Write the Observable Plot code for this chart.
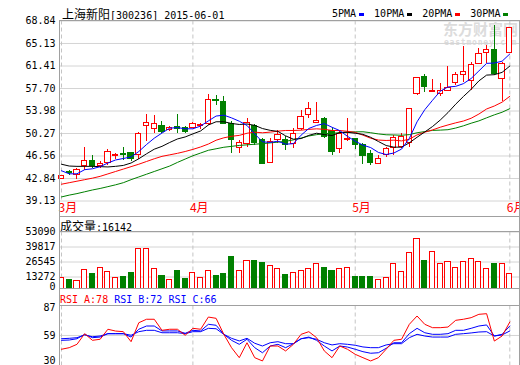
<!DOCTYPE html>
<html><head><meta charset="utf-8">
<script src="https://cdn.jsdelivr.net/npm/d3@7"></script>
<script src="https://cdn.jsdelivr.net/npm/@observablehq/plot@0.6"></script>
<style>
html,body{margin:0;padding:0;background:#fff}
#c{position:relative;width:520px;height:365px;overflow:hidden;font-family:"DejaVu Sans Mono",monospace;font-size:10px;color:#000}
.abs{position:absolute}
.txt{position:absolute;white-space:nowrap;line-height:12px;font-size:10px;font-family:"DejaVu Sans Mono",monospace}
.cjk{font-family:"Noto Sans CJK SC";font-size:12px}
.hl{position:absolute;height:1px;background:#a0a0a0;left:59px;width:461px}
.vl{position:absolute;width:1px;background:#a0a0a0;top:20px;height:345px}
.key{display:inline-block;width:5px;height:3px;margin:0 10px 0 3px;vertical-align:1px}
svg{overflow:visible}
</style></head><body><div id="c"></div>
<script>
// ---------- data ----------
const title = "[300236] 2015-06-01";
const stockName = "上海新阳";
const monthIdx = [0, 17, 38, 58];
const monthLbl = ["3月", "4月", "5月", "6月"];
const priceTicks = [39.13, 42.84, 46.56, 50.27, 53.98, 57.70, 61.41, 65.13, 68.84];
const volTicks = [13272, 26545, 39817, 53090];
const rsiTicks = [87, 59, 30];
const legendLbl = ["5PMA", "10PMA", "20PMA", "30PMA"];
const legendColor = ["#0000ff", "#000000", "#ff0000", "#008000"];

const open = [42.76,43.85,43.49,44.86,45.8,44.85,45.47,46.5,46.9,47.0,46.67,51.46,51.08,51.46,50.8,51.38,51.18,51.18,51.55,51.91,55.8,55.47,51.91,47.94,48.6,51.46,49.15,45.4,49.15,49.23,48.6,51.08,53.39,52.0,52.73,50.7,47.78,49.15,49.31,48.32,46.95,45.3,46.79,47.94,47.99,48.7,56.86,59.6,57.19,56.74,57.29,58.61,60.0,58.89,61.81,63.56,64.12,59.22,63.56];
const high = [43.35,44.2,44.48,48.04,46.67,45.68,47.58,47.0,47.99,47.17,50.47,53.44,53.28,52.29,51.46,53.39,51.46,52.12,52.0,56.69,56.58,56.3,52.17,49.15,52.73,51.8,49.48,49.48,50.8,49.81,51.13,54.1,55.47,55.47,52.95,51.13,50.52,52.73,49.48,48.65,47.5,46.67,47.99,49.98,50.26,54.43,59.55,60.04,59.17,58.51,61.25,60.42,64.55,62.07,64.29,64.83,68.13,62.07,67.75];
const low = [42.6,43.26,42.71,44.2,44.48,44.53,45.02,46.0,45.85,45.6,46.0,48.98,50.26,50.3,50.64,50.3,50.3,51.13,50.92,51.63,54.93,51.8,46.95,47.0,48.04,48.3,45.19,45.3,48.65,47.5,47.83,50.8,52.73,52.0,49.48,46.67,46.95,48.98,47.66,45.19,45.02,45.3,46.34,46.67,47.83,48.04,56.58,56.96,56.96,56.3,57.19,58.23,58.77,57.4,61.7,61.81,59.88,55.59,63.4];
const close = [43.21,43.75,44.31,45.8,44.86,45.18,47.25,46.79,46.8,46.0,50.26,51.96,51.91,50.52,51.18,51.05,50.52,51.91,51.63,55.75,55.7,51.91,49.15,48.77,52.0,48.77,45.3,48.87,49.98,48.32,50.26,52.99,54.38,52.29,49.7,47.22,50.26,49.31,48.32,46.56,45.4,46.01,47.78,49.6,49.65,54.38,59.5,57.95,57.35,57.24,57.78,59.88,60.42,61.53,63.46,64.0,60.16,61.81,67.7];
const volume = [12740,10350,10090,19820,15660,21590,18050,12120,13010,16550,38400,38400,20700,13890,10970,18320,11240,17170,12740,18930,13890,16280,30700,18580,27780,27160,26010,23360,20700,15390,16810,18930,20700,25130,21590,18930,20700,21590,13010,13010,13010,10970,12740,25130,18050,34860,47250,27160,35750,25130,26900,21590,26900,29550,26900,20700,25130,25130,16142];
const ma5 = [44.12,43.62,43.62,44.3,44.45,44.8,45.4,45.9,46.15,46.4,47.3,48.45,49.5,50.35,51.15,51.25,51.05,51.05,51.5,52.35,53.15,53.3,52.85,52.3,51.6,50.2,48.9,48.8,49.0,48.5,48.6,50.0,51.1,51.6,51.9,51.3,50.75,49.8,49.0,48.35,47.95,47.15,46.8,47.05,47.7,49.45,52.2,54.2,55.75,57.25,57.95,58.05,58.5,59.35,60.6,61.85,61.9,62.2,63.4];
const ma10 = [45.2,44.9,44.85,44.85,44.85,44.8,44.75,44.85,45.0,45.4,46.1,46.92,47.68,48.15,48.79,49.37,49.7,50.21,50.69,51.67,52.21,52.21,51.93,51.76,51.84,51.61,51.09,50.79,50.62,49.88,49.33,49.44,49.96,50.32,50.09,49.93,50.43,50.47,50.31,50.13,49.64,48.95,48.29,48.02,48.01,48.73,49.65,50.52,51.42,52.49,53.72,55.11,56.38,57.57,58.95,59.91,59.98,60.36,61.4];
const ma20 = [41.9,42.15,42.4,42.65,42.9,43.2,43.6,44.0,44.4,44.8,45.2,45.65,46.1,46.5,46.75,47.0,47.3,47.65,48.05,48.53,49.16,49.56,49.81,49.96,50.31,50.49,50.39,50.5,50.66,50.77,50.77,50.82,50.95,51.04,50.96,50.77,50.76,50.63,50.46,50.0,49.49,49.19,49.12,49.17,49.05,49.33,50.04,50.49,50.86,51.31,51.68,52.03,52.33,52.79,53.48,54.32,54.81,55.44,56.41];
const ma30 = [39.8,40.1,40.35,40.65,40.95,41.2,41.5,41.8,42.15,42.65,43.1,43.55,44.0,44.45,44.9,45.5,46.05,46.6,47.05,47.5,47.75,48.0,48.15,48.3,48.4,48.5,48.6,48.72,48.85,48.98,49.22,49.52,49.86,50.08,50.24,50.3,50.41,50.49,50.54,50.56,50.4,50.2,50.06,50.03,49.98,50.09,50.39,50.59,50.78,50.83,50.9,51.17,51.54,51.97,52.35,52.86,53.35,53.78,54.37];
const rsiA = [45.9,47.4,50.6,60.7,54.4,55.4,64.9,63.2,62.6,53.1,71.1,74.4,74.4,63.9,64.9,64.9,59.2,65.8,64.9,76.5,75.3,60.1,47.4,37.9,52.1,37.9,34.8,49,49,44.3,50.6,60.1,62.6,56.9,44.3,37.9,49,45.9,41.1,37.9,34.8,37.9,45.9,54.4,55.4,69.6,77.5,69.6,66.4,66.4,67,73.4,74.4,75.9,79.1,79.7,53.7,58.5,71.8];
const rsiB = [54.4,54.7,55.9,60.1,56.9,57.5,60.7,60.7,60.7,57.5,64.9,68,68,63.3,63.3,63.3,61.1,63.9,63.3,69.6,68.7,60.1,54.4,50.6,55.4,47.4,42.6,49,50.6,47.4,51.2,55.9,57.5,54.4,49,44.3,49,48,45.9,43.6,42.1,42.6,46.8,52.1,52.1,60.7,65.8,61.6,60.1,60.1,60.7,63.9,63.9,65.8,68,69,58.5,60.1,68];
const rsiC = [55.9,56.3,56.9,59.5,57.8,58.5,60.7,60.7,60.7,59.2,62.6,63.9,63.9,61.6,61.6,61.6,60.7,62.6,62.6,65.8,65.4,60.1,56.3,53.8,56.3,51.6,49,52.1,53.1,51.2,51.2,55.9,56.9,55.4,52.1,50,51.2,50.6,49.7,48.1,47.4,47.4,50,51.2,51.2,56.9,60.1,58.5,57.5,57.5,57.5,60.1,60.7,61.4,62.3,62.6,58.5,59.5,63.3];
const rsiLbl = ["RSI_A:78", "RSI_B:72", "RSI_C:66"];
const rsiColor = ["#ff0000", "#0000ff", "#0000ff"];
const volLbl = "成交量:16142";

// ---------- build ----------
const UP = "#ff0000", DOWN = "#008000", GRID = "#d4d4d4", DASH = "#c4c4c4";
const FONT = "DejaVu Sans Mono";
const candles = close.map((c, i) => ({i, o: open[i], h: high[i], l: low[i], c, v: volume[i], up: c >= open[i]}));
const X = {domain: [0, 58], range: [61, 509.3], axis: null};
const base = {width: 520, marginLeft: 59, marginRight: 1, color: {type: "identity"},
  style: {fontFamily: FONT, fontSize: "10px", background: "transparent", color: "#000", overflow: "visible"}};
const root = document.getElementById("c");

function add(node, top, h, z) {
  const d = document.createElement("div");
  d.className = "abs";
  Object.assign(d.style, {left: "0px", top: top + "px", width: "520px", height: h + "px", zIndex: z || 1});
  d.appendChild(node);
  root.appendChild(d);
  return d;
}
function div(cls, css, html) {
  const d = document.createElement("div");
  d.className = cls;
  Object.assign(d.style, css);
  if (html != null) d.innerHTML = html;
  root.appendChild(d);
  return d;
}

// watermark
div("txt", {left: "443px", top: "21px", fontFamily: "Noto Sans CJK SC", fontSize: "15px", fontWeight: "bold", color: "#dcdcdc", lineHeight: "16px", zIndex: 0}, "东方财富网");
div("txt", {left: "444px", top: "39px", fontSize: "8px", fontWeight: "bold", color: "#dcdcdc", lineHeight: "8px", letterSpacing: "0.8px", zIndex: 0}, "eastmoney.com");

// price panel
const price = Plot.plot({...base, height: 217, marginTop: 20.5, marginBottom: 16.5,
  x: X, y: {domain: [39.13, 68.84], range: [200.5, 20.5], axis: null},
  marks: [
    Plot.gridY(priceTicks, {stroke: GRID, strokeOpacity: 1}),
    Plot.ruleX(monthIdx, {stroke: DASH, strokeDasharray: "4,3"}),
    Plot.axisY(priceTicks, {anchor: "left", label: null, tickSize: 0, tickPadding: 4, tickFormat: d => d.toFixed(2), fill: "#000"}),
    Plot.text(monthIdx, {x: d => d, frameAnchor: "bottom", text: (d, i) => monthLbl[i], fill: UP, textAnchor: "start", dx: -3, dy: 2, lineAnchor: "top", fontFamily: "Noto Sans CJK SC", fontSize: 12}),
    Plot.ruleX(candles, {x: "i", y1: "l", y2: "h", stroke: d => d.up ? UP : DOWN, shapeRendering: "crispEdges"}),
    Plot.rect(candles, {x1: d => d.i - 0.34, x2: d => d.i + 0.34, y1: "o", y2: "c", fill: d => d.up ? "#ffffff" : DOWN, stroke: d => d.up ? UP : DOWN, shapeRendering: "crispEdges"}),
    Plot.lineY(ma30, {stroke: "#008000", strokeWidth: 1}),
    Plot.lineY(ma20, {stroke: "#ff0000", strokeWidth: 1}),
    Plot.lineY(ma10, {stroke: "#000000", strokeWidth: 1}),
    Plot.lineY(ma5, {stroke: "#0000ff", strokeWidth: 1})
  ]});
add(price, 0, 217);

// volume panel
const vol = Plot.plot({...base, height: 72, marginTop: 14.5, marginBottom: 0,
  x: X, y: {domain: [0, 53090], range: [74.5, 14.5], axis: null},
  marks: [
    Plot.gridY(volTicks, {stroke: GRID, strokeOpacity: 1}),
    Plot.ruleX(monthIdx, {stroke: DASH, strokeDasharray: "4,3"}),
    Plot.axisY(volTicks, {anchor: "left", label: null, tickSize: 0, tickPadding: 4, tickFormat: d => String(d), fill: "#000"}),
    Plot.text([0], {y: d => d, frameAnchor: "left", text: d => String(d), textAnchor: "end", dx: -4, dy: -5.5}),
    Plot.rect(candles, {x1: d => d.i - 0.33, x2: d => d.i + 0.33, y1: 0, y2: "v", clip: true, fill: d => d.up ? "#ffffff" : DOWN, stroke: d => d.up ? UP : DOWN, shapeRendering: "crispEdges"})
  ]});
add(vol, 217, 72);

// RSI panel
const rsi = Plot.plot({...base, height: 76, marginTop: 16.5, marginBottom: 0,
  x: X, y: {domain: [30, 87], range: [76.5, 16.5], axis: null},
  marks: [
    Plot.gridY([59], {stroke: GRID, strokeOpacity: 1}),
    Plot.ruleX(monthIdx, {stroke: DASH, strokeDasharray: "4,3"}),
    Plot.text(rsiTicks, {y: d => d, frameAnchor: "left", text: d => String(d), textAnchor: "end", dx: -4, lineAnchor: "middle"}),
    Plot.lineY(rsiC, {stroke: "#0000ff", strokeWidth: 1}),
    Plot.lineY(rsiB, {stroke: "#0000ff", strokeWidth: 1}),
    Plot.lineY(rsiA, {stroke: "#ff0000", strokeWidth: 1})
  ]});
add(rsi, 289, 76);

// keep the extreme RSI tick labels inside the window, as in the original
rsi.querySelectorAll("text").forEach(t => {
  if (t.textContent === "30") t.setAttribute("transform", (t.getAttribute("transform") || "") + " translate(0,-5.5)");
  if (t.textContent === "87") t.setAttribute("transform", (t.getAttribute("transform") || "") + " translate(0,1.5)");
});

// frame lines
div("vl", {left: "59px", zIndex: 3});
div("vl", {left: "519px", zIndex: 3});
[20, 216, 231, 288, 305].forEach(y => div("hl", {top: y + "px", zIndex: 3}));

// texts
div("txt", {left: "62px", top: "8px"}, `<span class="cjk">${stockName}</span>${title}`);
const lg = div("txt", {left: "332px", top: "8px"}, "");
legendLbl.forEach((l, i) => { lg.innerHTML += `${l}<span class="key" style="background:${legendColor[i]}"></span>`; });
div("txt", {left: "60px", top: "220px"}, `<span class="cjk">${volLbl.slice(0, 3)}</span>${volLbl.slice(3)}`);
div("txt", {left: "60px", top: "294px"}, rsiLbl.map((l, i) => `<span style="color:${rsiColor[i]}">${l}</span>`).join(" "));
</script></body></html>
